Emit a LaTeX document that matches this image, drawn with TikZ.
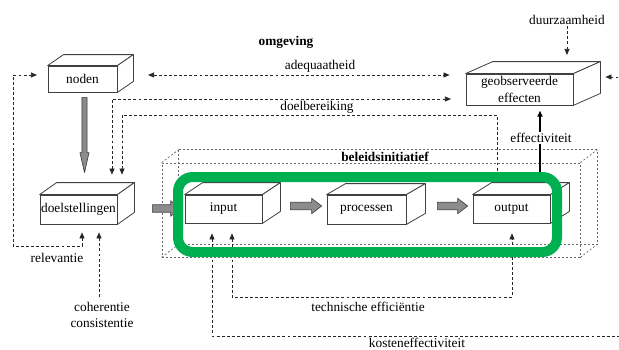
\documentclass[tikz,border=0pt]{standalone}
\usepackage{fontspec}
\setmainfont{Liberation Serif}
\usetikzlibrary{arrows.meta,calc}
\definecolor{ggreen}{RGB}{0,176,80}
\newcommand\cubefaces[4]{%
  \filldraw[#4] (#1.north west) -- ++(#2,#3) -- ($(#1.north east)+(#2,#3)$) -- (#1.north east) -- cycle;
  \filldraw[#4] (#1.north east) -- ($(#1.north east)+(#2,#3)$) -- ($(#1.south east)+(#2,#3)$) -- (#1.south east) -- cycle;}
\newcommand\hblock[2]{\draw[gblock] let \p1=(#1), \p2=(#2) in
  (\x1,{\y1+2.8pt}) -- ({\x2-7.5pt},{\y1+2.8pt}) -- ({\x2-7.5pt},{\y1+5.8pt}) -- (\x2,\y1)
  -- ({\x2-7.5pt},{\y1-5.8pt}) -- ({\x2-7.5pt},{\y1-2.8pt}) -- (\x1,{\y1-2.8pt}) -- cycle;}
\newcommand\vblock[2]{\draw[gblock] let \p1=(#1), \p2=(#2) in
  ({\x1-1.9pt},\y1) -- ({\x1-1.9pt},{\y2+15pt}) -- ({\x1-3.4pt},{\y2+15pt}) -- (\x1,\y2)
  -- ({\x1+3.4pt},{\y2+15pt}) -- ({\x1+1.9pt},{\y2+15pt}) -- ({\x1+1.9pt},\y1) -- cycle;}
\begin{document}
\begin{tikzpicture}[x=0.75pt,y=-0.75pt,
  >={Triangle[length=4.5pt,width=3.8pt]},
  box/.style={draw=black!75, line width=0.6pt, fill=white, inner sep=0pt},
  face/.style={draw=black!75, line width=0.6pt, fill=white, line join=round},
  dl/.style={draw=black!85, line width=0.5pt, dash pattern=on 2.2pt off 1.6pt},
  dotbox/.style={draw=black!60, line width=0.5pt, dash pattern=on 1.5pt off 1.5pt},
  gblock/.style={fill=black!45, draw=black!75, line width=0.5pt, line join=round},
  lab/.style={inner sep=1pt}]
\useasboundingbox (0,0) rectangle (619,350);

% beleidsinitiatief wireframe box
\node[dotbox, minimum width=313.5pt, minimum height=70.5pt] (bel) at (371,210) {};
\draw[dotbox] ($(bel.north west)+(17,-13)$) rectangle ($(bel.south east)+(17,-13)$);
\foreach \a in {north west, north east, south west, south east}
  \draw[dotbox] (bel.\a) -- ++(17,-13);

% boxes
\node[box, minimum width=51.75pt, minimum height=19.5pt] (noden) at (82.5,79) {noden};
\node[box, minimum width=57.75pt, minimum height=21.75pt] (doel) at (78.5,209.5) {doelstellingen};
\node[box, minimum width=80.25pt, minimum height=23.25pt, align=center] (geo) at (519.5,89.5) {geobserveerde\\[1pt]effecten};
\node[box, minimum width=57.75pt, minimum height=21pt] (inp) at (223.5,209) {input};
\node[box, minimum width=59.25pt, minimum height=21.75pt] (proc) at (366.5,209.5) {processen};
\node[box, minimum width=57.75pt, minimum height=21pt] (out) at (511.5,209) {output};

% dashed connectors
\coordinate (lft) at (13,75);
\coordinate (rel) at (82,246);
\draw[dl,<->, shorten <=6pt, shorten >=8pt] (rel |- doel.south) -- (rel) -| (lft) -- (noden.west |- lft);

\coordinate (cohtop) at (99,297);
\draw[dl,->, shorten >=6pt] (cohtop) -- (cohtop |- doel.south);

\coordinate (adq) at (300,75);
\draw[dl,<->, shorten <=23pt, shorten >=12pt] (noden.east |- adq) -- (geo.west |- adq);

\coordinate (db1) at (112,99);
\draw[dl,<->, shorten <=15pt, shorten >=11pt] (db1 |- doel.north) -- (db1) -- (geo.west |- db1);

\coordinate (db2) at (122,115);
\coordinate (db3) at (497,115);
\draw[dl,<-, shorten <=15pt, shorten >=9pt] (db2 |- doel.north) -- (db2) -- (db3) -- (db3 |- out.north);

\node[lab] (duur) at (567,20) {duurzaamheid};
\draw[dl,->, shorten >=14pt] (duur.south) -- (duur.south |- geo.north);

\coordinate (k1) at (212,336);
\coordinate (k2) at (630,336);
\coordinate (k3) at (630,77);
\draw[dl,<->, shorten <=7.5pt, shorten >=24pt] (k1 |- inp.south) -- (k1) -- (k2) -- (k3) -- (geo.east |- k3);

\coordinate (t1) at (232,297);
\coordinate (t2) at (512,297);
\draw[dl,<->, shorten <=7.5pt, shorten >=7.5pt] (t1 |- inp.south) -- (t1) -- (t2) -- (t2 |- out.south);

% 3D faces
\cubefaces{noden}{16}{-11}{face}
\cubefaces{doel}{17}{-12}{face}
\cubefaces{geo}{27}{-12}{face}
\cubefaces{inp}{18}{-12}{face}
\cubefaces{proc}{19}{-11}{face}
\cubefaces{out}{19}{-12}{face}

% grey block arrows
\vblock{$(noden.south)+(2,5)$}{$(doel.north)+(2,-22)$}
\hblock{$(doel.east)+(35,-1)$}{$(inp.west)+(-4,-1)$}
\hblock{$(inp.east)+(28,-3)$}{$(proc.west)+(-5,-3)$}
\hblock{$(proc.east)+(31,-3.5)$}{$(out.west)+(-5,-3.5)$}

% effectiviteit
\coordinate (eff) at (540,180);
\draw[black, line width=1.1pt, ->, shorten >=4pt] (eff) -- (eff |- geo.south);
\node[lab, fill=white] (effL) at (541,138) {effectiviteit};

% green frame
\draw[ggreen, line width=7.5pt, rounded corners=11pt] (178,177) rectangle (557,252);

% labels
\node[lab, font=\bfseries] (omg) at (286,42) {omgeving};
\node[lab, font=\bfseries] (belL) at (385,157) {beleidsinitiatief};
\node[lab] (adqL) at (320,66) {adequaatheid};
\node[lab] (dbL) at (317,107) {doelbereiking};
\node[lab] (relL) at (57,258) {relevantie};
\node[lab, align=center] (coh) at (102,314.5) {coherentie\\consistentie};
\node[lab] (teL) at (368,307) {technische efficiëntie};
\node[lab] (keL) at (417,343) {kosteneffectiviteit};
\end{tikzpicture}
\end{document}
